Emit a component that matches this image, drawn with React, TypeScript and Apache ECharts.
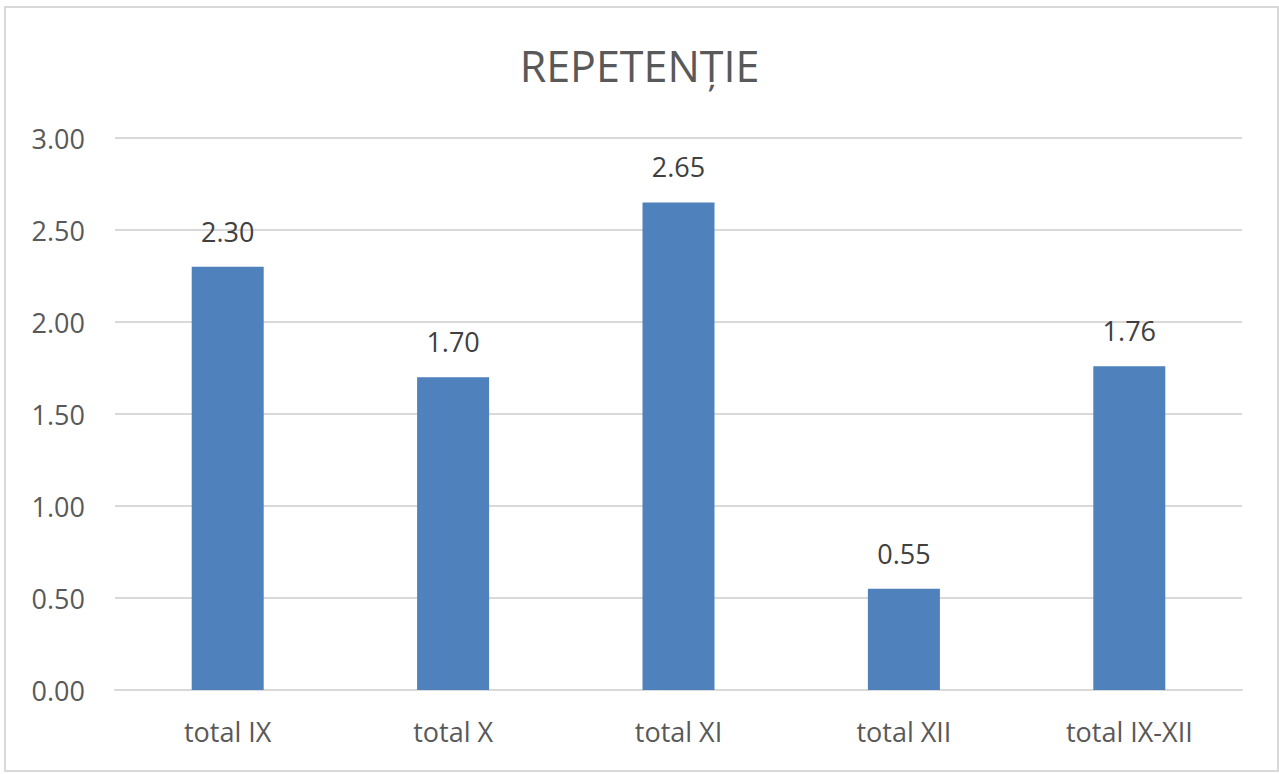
import React, { useEffect, useRef } from "react";
import * as echarts from "echarts";

const titleText = "REPETENȚIE";
const categories = ["total IX", "total X", "total XI", "total XII", "total IX-XII"];
const values = [2.3, 1.7, 2.65, 0.55, 1.76];
const yTicks = { min: 0, max: 3, interval: 0.5 };

export default function App() {
  const ref = useRef<HTMLDivElement>(null);
  useEffect(() => {
    document.body.style.margin = "0";
    const chart = echarts.init(ref.current!, null, { renderer: "svg" });
    const font = "'Open Sans', 'Noto Sans', sans-serif";
    chart.setOption({
      animation: false,
      backgroundColor: "#ffffff",
      textStyle: { fontFamily: font },
      title: {
        text: titleText,
        left: "center",
        top: 39,
        textStyle: { fontFamily: font, fontSize: 43, fontWeight: "normal", color: "#595959" },
      },
      graphic: [
        {
          type: "rect",
          shape: { x: 5, y: 7, width: 1273, height: 764 },
          style: { fill: "none", stroke: "#d9d9d9", lineWidth: 2 },
          silent: true,
        },
      ],
      grid: { left: 115, right: 37, top: 138, bottom: 84, containLabel: false },
      xAxis: {
        type: "category",
        data: categories,
        axisLine: { show: true, lineStyle: { color: "#d9d9d9", width: 2 } },
        axisTick: { show: false },
        axisLabel: { color: "#595959", fontSize: 27, margin: 28, fontFamily: font },
      },
      yAxis: {
        type: "value",
        min: yTicks.min,
        max: yTicks.max,
        interval: yTicks.interval,
        axisLine: { show: false },
        axisTick: { show: false },
        splitLine: { lineStyle: { color: "#d9d9d9", width: 2 } },
        axisLabel: {
          color: "#595959",
          fontSize: 27,
          margin: 30,
          fontFamily: font,
          formatter: (v: number) => v.toFixed(2),
        },
      },
      series: [
        {
          type: "bar",
          data: values,
          barWidth: 72,
          itemStyle: { color: "#4f81bd" },
          label: {
            show: true,
            position: "top",
            distance: 22,
            color: "#404040",
            fontSize: 27,
            fontFamily: font,
            formatter: (p: any) => Number(p.value).toFixed(2),
          },
        },
      ],
    });
    return () => chart.dispose();
  }, []);
  return <div ref={ref} style={{ width: 1279, height: 774 }} />;
}
